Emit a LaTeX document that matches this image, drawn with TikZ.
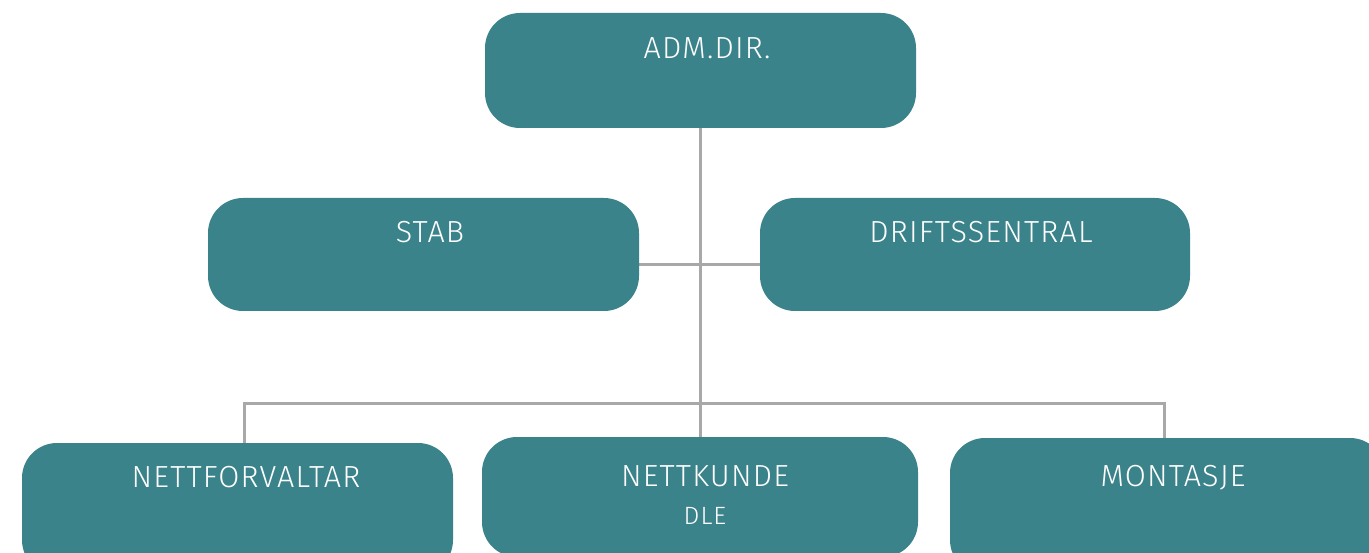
\documentclass[tikz,border=0pt]{standalone}
\usepackage{fontspec}
\setmainfont{Fira Sans}[UprightFont=* Light, LetterSpace=4]
\usetikzlibrary{calc}
\definecolor{teal1}{HTML}{3A838A}
\definecolor{line1}{HTML}{A8A8A8}
\tikzset{
  orgbox/.style={fill=teal1, draw=none, rounded corners=35pt, inner sep=0pt},
  orglabel/.style={text=white, font=\fontsize{30.5}{32}\selectfont, inner sep=0pt, anchor=center},
  conn/.style={draw=line1, line width=3pt}
}
\begin{document}
\begin{tikzpicture}[x=1pt,y=-1pt]
\useasboundingbox (0,0) rectangle (1369,553);
\clip (0,0) rectangle (1369,553);
% connectors first (behind boxes)
\coordinate (busL) at (244,404);
\coordinate (busR) at (1164,404);
\coordinate (admB) at (700,128);
\coordinate (nkT) at (700,437);
\coordinate (stabE) at (639,265);
\coordinate (driftW) at (760,265);
\draw[conn] (admB) -- (nkT);
\draw[conn] (stabE) -- (driftW);
\draw[conn] ($(busL)+(0,40)$) -- (busL) -- (busR) -- ($(busR)+(0,35)$);
% boxes
\path[orgbox] (485,13) rectangle (916,128);
\node[inner sep=0pt] (adm) at (700,70) {};
\path[orgbox] (208,198) rectangle (639,311);
\node[inner sep=0pt] (stab) at (423,254) {};
\path[orgbox] (760,198) rectangle (1190,311);
\node[inner sep=0pt] (drift) at (975,254) {};
\path[orgbox] (22,443) rectangle (453,575);
\node[inner sep=0pt] (nf) at (237,500) {};
\path[orgbox] (482,437) rectangle (918,557);
\node[inner sep=0pt] (nk) at (700,497) {};
\path[orgbox] (950,438) rectangle (1385,575);
\node[inner sep=0pt] (mo) at (1167,500) {};
% labels
\node[orglabel] (admT) at (707,48) {ADM.DIR.};
\node[orglabel] (stabT) at (430,232) {STAB};
\node[orglabel] (driftT) at (981,232) {DRIFTSSENTRAL};
\node[orglabel] (nfT) at (246,477) {NETTFORVALTAR};
\node[orglabel] (nkT1) at (705,476) {NETTKUNDE};
\node[orglabel, font=\fontsize{25}{28}\selectfont] (nkT2) at (705,516) {DLE};
\node[orglabel] (moT) at (1173,478) {MONTASJE};
\end{tikzpicture}
\end{document}
